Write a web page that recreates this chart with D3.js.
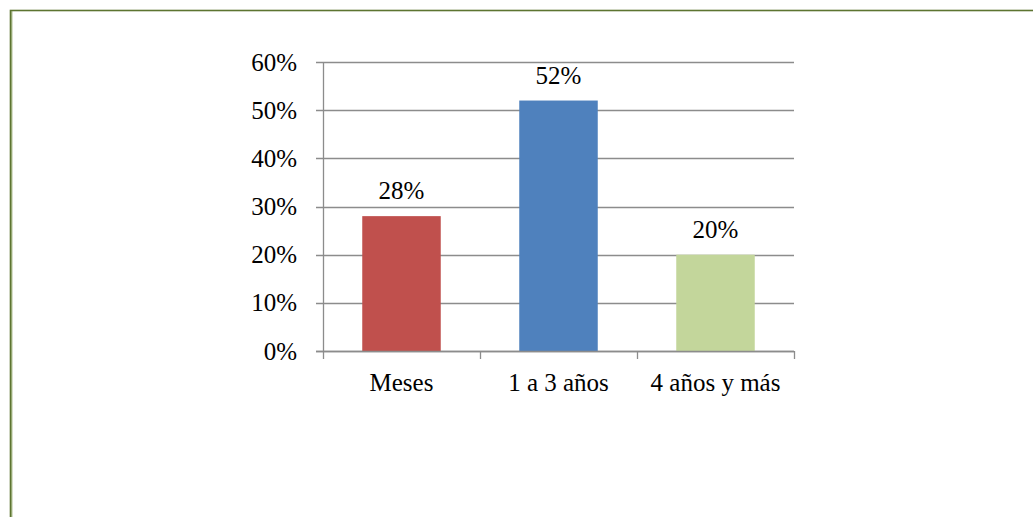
<!DOCTYPE html>
<html>
<head>
<meta charset="utf-8">
<script src="https://cdn.jsdelivr.net/npm/d3@7"></script>
<style>
  html, body { margin: 0; padding: 0; background: #fff; }
  svg { display: block; }
</style>
</head>
<body>
<svg id="chart" width="1033" height="517"></svg>
<script>
// Tiempo de permanencia: share of respondents per category
const categories = ["Meses", "1 a 3 años", "4 años y más"];
const values = [0.28, 0.52, 0.20];
const barColors = ["#C0504D", "#4F81BD", "#C3D69B"];
const yTicks = [0, 0.1, 0.2, 0.3, 0.4, 0.5, 0.6];

const FONT = "'Liberation Serif', 'Times New Roman', Times, serif";

const svg = d3.select("#chart")
  .attr("font-family", FONT);
const W = 1033, H = 517;

// Outer frame (runs past the right and bottom edges)
const defs = svg.append("defs");
defs.append("filter").attr("id", "glow")
  .append("feGaussianBlur").attr("stdDeviation", 1.2);
svg.append("line")
  .attr("x1", 9).attr("x2", 9).attr("y1", 12).attr("y2", H)
  .attr("stroke", "#c9d9b0").attr("stroke-width", 3)
  .attr("filter", "url(#glow)");
svg.append("rect")
  .attr("x", 10.5).attr("y", 10.5)
  .attr("width", W + 20).attr("height", H + 20)
  .attr("fill", "none")
  .attr("stroke", "#5d7431").attr("stroke-width", 1.6);
svg.append("line")
  .attr("x1", 11.8).attr("x2", 11.8).attr("y1", 11).attr("y2", H)
  .attr("stroke", "#7d9450").attr("stroke-width", 1);

const plot = { left: 323, right: 794, top: 62, bottom: 351 };

const x = d3.scaleBand()
  .domain(categories)
  .range([plot.left, plot.right])
  .paddingInner(0.5)
  .paddingOuter(0.25);
const step = x.step();

const y = d3.scaleLinear()
  .domain([0, 0.6])
  .range([plot.bottom, plot.top]);

const gridColor = "#8c8c8c";
const fmt = d3.format(".0%");

// Horizontal gridlines with outside ticks
svg.append("g").selectAll("line")
  .data(yTicks)
  .join("line")
  .attr("x1", plot.left - 7).attr("x2", plot.right)
  .attr("y1", d => Math.round(y(d)) + 0.5)
  .attr("y2", d => Math.round(y(d)) + 0.5)
  .attr("stroke", gridColor).attr("stroke-width", 1.3);

// Bars
svg.append("g").selectAll("rect")
  .data(values)
  .join("rect")
  .attr("x", (d, i) => x(categories[i]))
  .attr("width", x.bandwidth())
  .attr("y", d => y(d))
  .attr("height", d => y(0) - y(d))
  .attr("fill", (d, i) => barColors[i]);

// Value axis line
svg.append("line")
  .attr("x1", plot.left + 0.5).attr("x2", plot.left + 0.5)
  .attr("y1", plot.top).attr("y2", plot.bottom + 0.5)
  .attr("stroke", gridColor).attr("stroke-width", 1.3);

// Category axis line (drawn over the zero gridline) and tick marks
svg.append("line")
  .attr("x1", plot.left - 7).attr("x2", plot.right)
  .attr("y1", Math.round(y(0)) + 0.5).attr("y2", Math.round(y(0)) + 0.5)
  .attr("stroke", gridColor).attr("stroke-width", 1.3);
const tickXs = d3.range(categories.length + 1).map(i => plot.left + i * step);
svg.append("g").selectAll("line")
  .data(tickXs)
  .join("line")
  .attr("x1", d => Math.round(d) + 0.5).attr("x2", d => Math.round(d) + 0.5)
  .attr("y1", plot.bottom).attr("y2", plot.bottom + 8)
  .attr("stroke", gridColor).attr("stroke-width", 1.3);

// Value axis labels
svg.append("g").selectAll("text")
  .data(yTicks)
  .join("text")
  .attr("font-family", FONT)
  .attr("x", plot.left - 26)
  .attr("y", d => y(d))
  .attr("dy", "0.34em")
  .attr("text-anchor", "end")
  .attr("font-size", 25)
  .attr("fill", "#000")
  .text(d => fmt(d));

// Category labels
svg.append("g").selectAll("text")
  .data(categories)
  .join("text")
  .attr("font-family", FONT)
  .attr("x", d => x(d) + x.bandwidth() / 2)
  .attr("y", plot.bottom + 40)
  .attr("text-anchor", "middle")
  .attr("font-size", 25)
  .attr("fill", "#000")
  .text(d => d);

// Data labels above bars
svg.append("g").selectAll("text")
  .data(values)
  .join("text")
  .attr("font-family", FONT)
  .attr("x", (d, i) => x(categories[i]) + x.bandwidth() / 2)
  .attr("y", d => y(d) - 17)
  .attr("text-anchor", "middle")
  .attr("font-size", 25)
  .attr("fill", "#000")
  .text(d => fmt(d));
</script>
</body>
</html>
